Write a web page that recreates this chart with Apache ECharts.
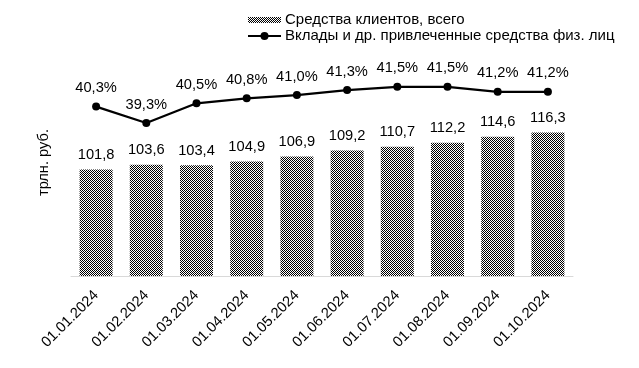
<!DOCTYPE html>
<html><head><meta charset="utf-8">
<script src="https://cdn.jsdelivr.net/npm/echarts@6/dist/echarts.min.js"></script>
<style>html,body{margin:0;padding:0;background:#fff}#c{width:639px;height:368px}</style>
</head><body><div id="c"></div>
<script>
const categories = ['01.01.2024','01.02.2024','01.03.2024','01.04.2024','01.05.2024','01.06.2024','01.07.2024','01.08.2024','01.09.2024','01.10.2024'];
const clientFunds = [101.8,103.6,103.4,104.9,106.9,109.2,110.7,112.2,114.6,116.3];
const depositShare = [40.3,39.3,40.5,40.8,41.0,41.3,41.5,41.5,41.2,41.2];
const seriesNames = ['Средства клиентов, всего','Вклады и др. привлеченные средства физ. лиц'];
const yAxisName = 'трлн. руб.';

function checker(w, h, y0, y1) {
  const c = document.createElement('canvas');
  c.width = w; c.height = h;
  const ctx = c.getContext('2d');
  for (let y = y0; y < y1; y++) for (let x = 0; x < w; x++) {
    ctx.fillStyle = ((x + y) % 2 === 0) ? '#000000' : '#ffffff';
    ctx.fillRect(x, y, 1, 1);
  }
  return c;
}
const pattern = {image: checker(2, 2, 0, 2), repeat: 'repeat'};
const legendIcon = 'image://' + checker(33, 10, 2, 8).toDataURL();

const fmt = v => v.toFixed(1).replace('.', ',');
const font = 'Liberation Sans, Arial, sans-serif';
const fs = 14.67;

const chart = echarts.init(document.getElementById('c'), null, {renderer:'canvas'});
chart.setOption({
  animation: false,
  textStyle: {fontFamily: font},
  legend: {
    orient: 'vertical', left: 242, top: 7, itemGap: 0,
    itemWidth: 33, itemHeight: 10,
    textStyle: {fontSize: 15, lineHeight: 16, color: '#000', fontFamily: font, padding: [0,0,0,-1]},
    data: [{name: seriesNames[0], icon: legendIcon}, {name: seriesNames[1]}]
  },
  grid: {left: 71, right: 66, top: 49, bottom: 92, containLabel: false},
  xAxis: {
    type: 'category', data: categories,
    axisLine: {lineStyle: {color: '#d9d9d9', width: 1}},
    axisTick: {show: false},
    axisLabel: {rotate: 45, fontSize: fs, color: '#000', margin: 17, fontFamily: font, interval: 0}
  },
  yAxis: [
    {type: 'value', min: 60, max: 149, show: true, name: yAxisName, nameLocation: 'middle', nameGap: 20,
     nameTextStyle: {fontSize: fs, color: '#000', fontFamily: font},
     axisLine: {show: false}, axisTick: {show: false}, axisLabel: {show: false}, splitLine: {show: false}},
    {type: 'value', min: 30, max: 43.8, show: false, splitLine: {show: false}}
  ],
  series: [
    {name: seriesNames[0], type: 'bar', data: clientFunds, barWidth: 33, yAxisIndex: 0,
     itemStyle: {color: pattern},
     label: {show: true, position: 'top', distance: 7, fontSize: fs, color: '#000', fontFamily: font,
             formatter: p => fmt(p.value)}},
    {name: seriesNames[1], type: 'line', data: depositShare, yAxisIndex: 1,
     symbol: 'circle', symbolSize: 8,
     lineStyle: {color: '#000', width: 2.25}, itemStyle: {color: '#000'},
     label: {show: true, position: 'top', distance: 7, fontSize: fs, color: '#000', fontFamily: font,
             formatter: p => fmt(p.value) + '%'}}
  ]
});
</script></body></html>
